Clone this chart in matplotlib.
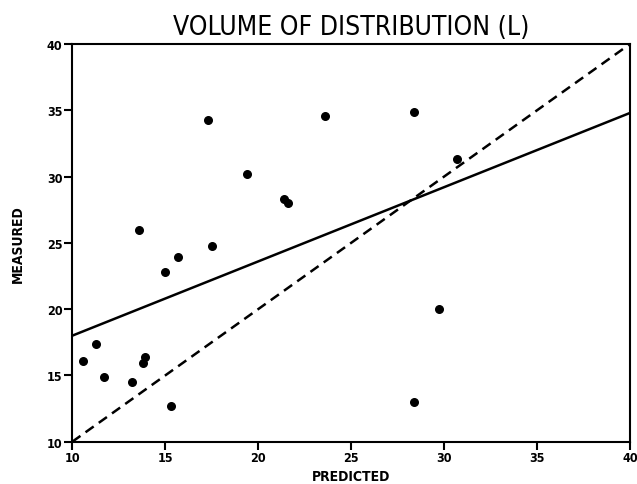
import matplotlib
matplotlib.use("Agg")
import matplotlib.pyplot as plt

# measured vs predicted volume of distribution (L)
predicted = [17.3, 23.6, 19.4, 21.4, 21.6, 13.6, 17.5, 15.7, 15.0,
             11.3, 10.6, 13.9, 13.8, 11.7, 13.2, 15.3,
             28.4, 30.7, 29.7, 28.4]
measured = [34.3, 34.6, 30.2, 28.3, 28.0, 26.0, 24.8, 23.9, 22.8,
            17.4, 16.1, 16.4, 15.9, 14.9, 14.5, 12.7,
            34.9, 31.3, 20.0, 13.0]

# regression line end points and line of identity
fit_x = [10, 40]
fit_y = [18.0, 34.8]
ident_x = [10, 40]
ident_y = [10, 40]

ticks = [10, 15, 20, 25, 30, 35, 40]

font = dict(fontfamily="DejaVu Sans", fontstretch="condensed")

fig = plt.figure(figsize=(6.37, 4.85), dpi=100)
ax = fig.add_axes([0.1135, 0.0872, 0.8755, 0.82])

ax.scatter(predicted, measured, s=30, color="black", zorder=3)
ax.plot(fit_x, fit_y, color="black", lw=1.8)
ax.plot(ident_x, ident_y, color="black", lw=1.8, linestyle=(0, (4, 2.5)))

ax.set_xlim(10, 40)
ax.set_ylim(10, 40)
ax.set_xticks(ticks)
ax.set_yticks(ticks)
ax.set_xticklabels([str(t) for t in ticks], fontweight="bold", fontsize=9, **font)
ax.set_yticklabels([str(t) for t in ticks], fontweight="bold", fontsize=9, **font)
ax.tick_params(direction="out", length=6, width=1.5, pad=1)

for s in ax.spines.values():
    s.set_linewidth(1.5)

ax.set_title("VOLUME OF DISTRIBUTION (L)", fontsize=19, pad=7, **font)
ax.set_xlabel("PREDICTED", fontweight="bold", fontsize=10, **font)
ax.set_ylabel("MEASURED", fontweight="bold", fontsize=10, **font)
ax.xaxis.set_label_coords(0.5, -0.068)
ax.yaxis.set_label_coords(-0.085, 0.5)

fig.savefig("out.png", dpi=100)
